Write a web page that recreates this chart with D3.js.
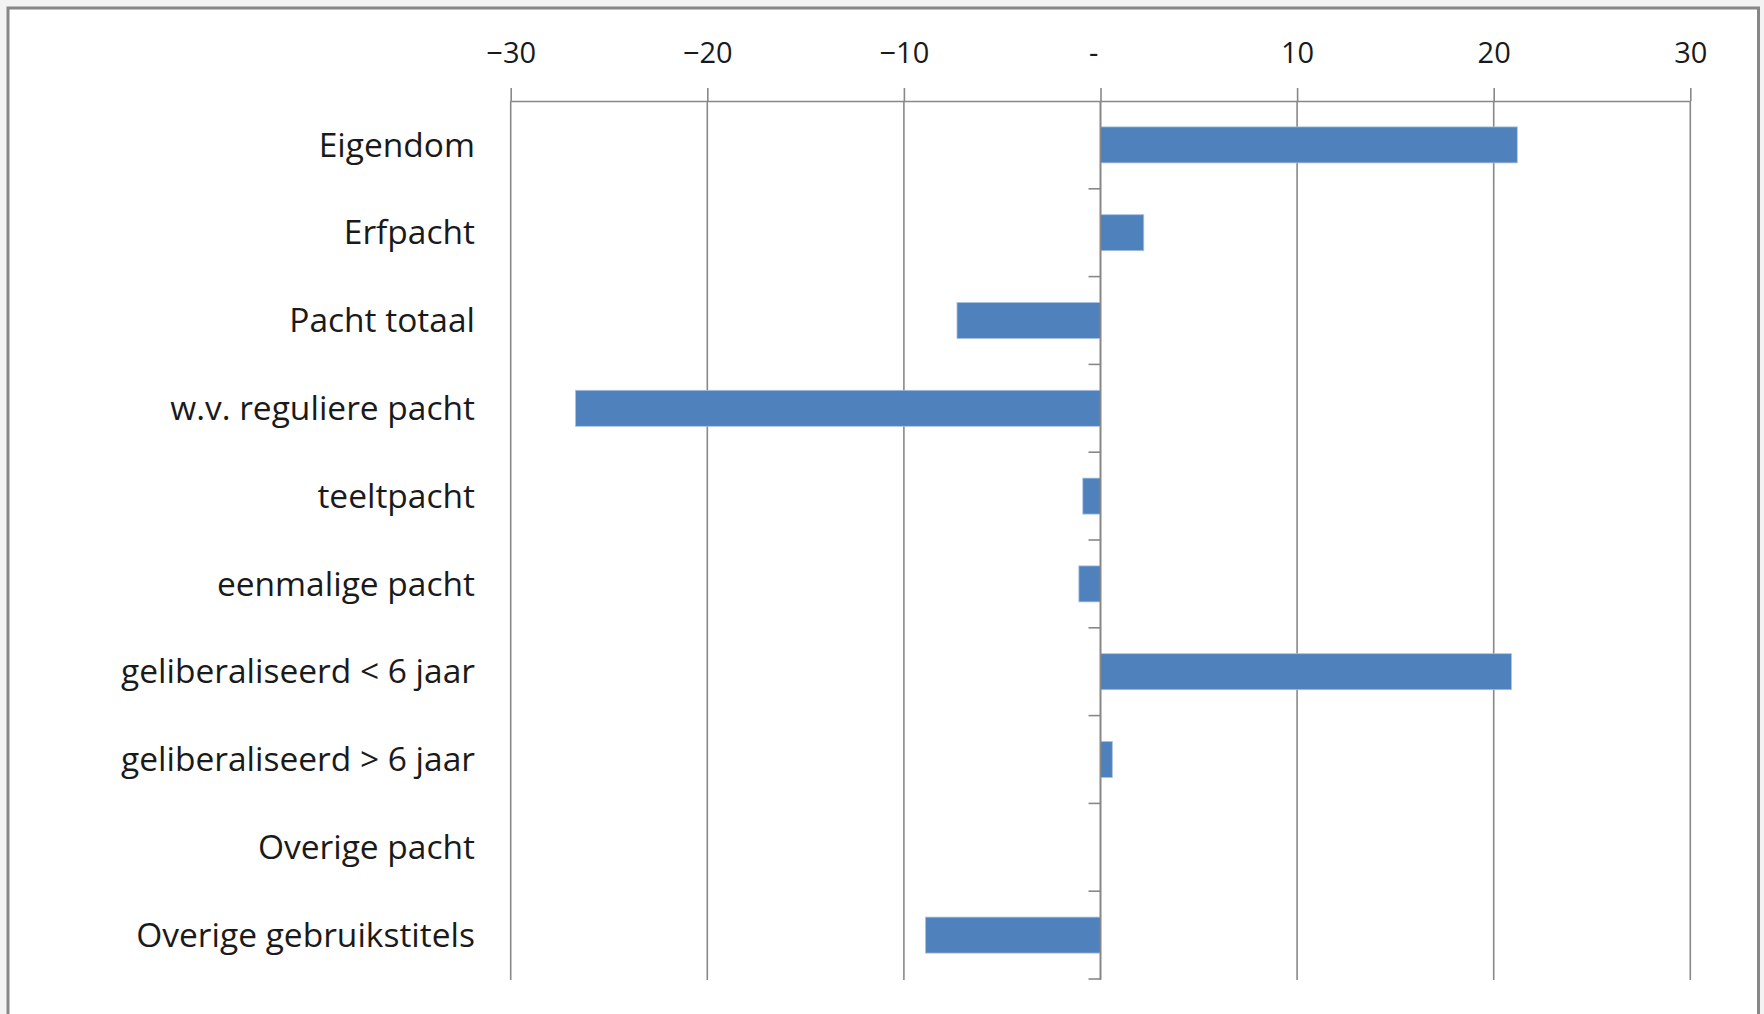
<!DOCTYPE html>
<html lang="nl">
<head>
<meta charset="utf-8">
<title>Mutaties grondgebruik naar gebruikstitel</title>
<script src="https://cdn.jsdelivr.net/npm/d3@7"></script>
<style>
  html, body { margin: 0; padding: 0; background: #f3f3f3; }
  svg { display: block; }
  .cat-label { font-family: "Open Sans", sans-serif; font-size: 33.5px; fill: #1a1a1a; }
  .x-axis text { font-family: "Open Sans", sans-serif; font-size: 29px; fill: #1a1a1a; }
</style>
</head>
<body>
<svg id="chart" width="1764" height="1014"></svg>
<script>
// Categories (top to bottom) and the change per category
const categories = [
  "Eigendom",
  "Erfpacht",
  "Pacht totaal",
  "w.v. reguliere pacht",
  "teeltpacht",
  "eenmalige pacht",
  "geliberaliseerd < 6 jaar",
  "geliberaliseerd > 6 jaar",
  "Overige pacht",
  "Overige gebruikstitels"
];
const values = [21.2, 2.2, -7.3, -26.7, -0.9, -1.1, 20.9, 0.6, 0, -8.9];

// Value axis ticks
const xTicks = [-30, -20, -10, 0, 10, 20, 30];
const xDomain = [-30, 30];

const data = categories.map((c, i) => ({ cat: c, val: values[i] }));

const svg = d3.select("#chart");

const gridColor = "#888888";
const barColor = "#4f81bd";

// Chart frame (white area with grey border, bottom edge runs off the page)
svg.append("rect")
  .attr("x", 8).attr("y", 8)
  .attr("width", 1750.5).attr("height", 1100)
  .attr("fill", "#ffffff")
  .attr("stroke", "#878787")
  .attr("stroke-width", 3);

const plot = { left: 510.7, right: 1690.3, top: 101, bottom: 979 };

const x = d3.scaleLinear().domain(xDomain).range([plot.left, plot.right]);
const y = d3.scaleBand()
  .domain(categories)
  .range([plot.top, plot.bottom])
  .paddingInner(0.59)
  .paddingOuter(0.295);

// Vertical gridlines
svg.append("g")
  .selectAll("line")
  .data(xTicks)
  .join("line")
  .attr("x1", d => x(d)).attr("x2", d => x(d))
  .attr("y1", plot.top).attr("y2", plot.bottom + 1)
  .attr("stroke", gridColor)
  .attr("stroke-width", 1.6);

// Value axis along the top
const fmt = d => d === 0 ? "-" : d3.format("d")(d);
const xAxis = svg.append("g")
  .attr("class", "x-axis")
  .attr("transform", `translate(0,${plot.top})`)
  .call(d3.axisTop(x).tickValues(xTicks).tickFormat(fmt)
        .tickSize(13).tickSizeOuter(0).tickPadding(25));
xAxis.select(".domain").attr("stroke", gridColor).attr("stroke-width", 1.6);
xAxis.selectAll(".tick line").attr("stroke", gridColor).attr("stroke-width", 1.6);
xAxis.selectAll(".tick text")
  .attr("dx", d => d === 0 ? "-0.25em" : 0);

// Bars
const x0 = x(0);
svg.append("g")
  .selectAll("rect")
  .data(data.filter(d => d.val !== 0))
  .join("rect")
  .attr("x", d => Math.min(x(d.val), x0))
  .attr("y", d => y(d.cat))
  .attr("width", d => Math.abs(x(d.val) - x0))
  .attr("height", y.bandwidth())
  .attr("fill", barColor)
  .attr("stroke", "#a9c1e0")
  .attr("stroke-width", 0.8);

// Category axis at zero, with tick marks on the category boundaries
const step = y.step();
const firstEdge = y(categories[0]) - (step - y.bandwidth()) / 2;
const edges = d3.range(categories.length + 1).map(i => firstEdge + i * step);
const catAxis = svg.append("g");
catAxis.append("line")
  .attr("x1", x0).attr("x2", x0)
  .attr("y1", plot.top).attr("y2", plot.bottom)
  .attr("stroke", gridColor).attr("stroke-width", 1.6);
catAxis.selectAll("line.edge")
  .data(edges.slice(1))
  .join("line")
  .attr("class", "edge")
  .attr("x1", x0 - 12).attr("x2", x0)
  .attr("y1", d => d).attr("y2", d => d)
  .attr("stroke", gridColor).attr("stroke-width", 1.6);

// Category labels
svg.append("g")
  .selectAll("text")
  .data(categories)
  .join("text")
  .attr("class", "cat-label")
  .attr("x", 475)
  .attr("y", d => y(d) + y.bandwidth() / 2)
  .attr("dy", "0.35em")
  .attr("text-anchor", "end")
  .text(d => d);
</script>
</body>
</html>
